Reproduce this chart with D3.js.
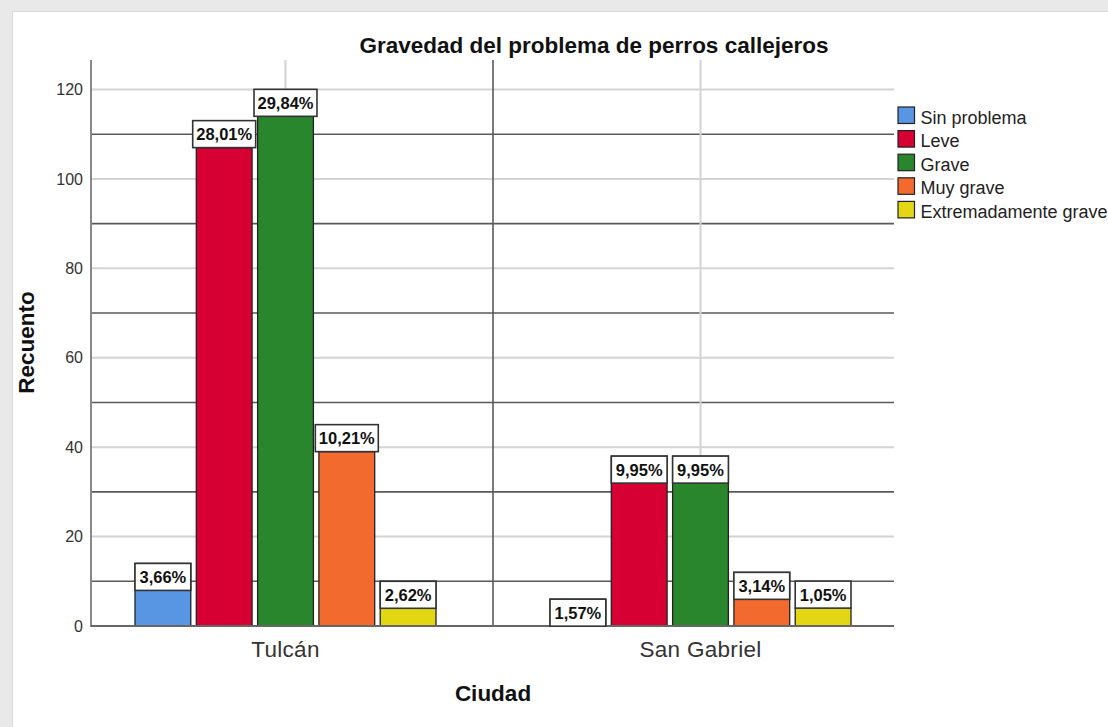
<!DOCTYPE html>
<html><head><meta charset="utf-8">
<script src="https://cdn.jsdelivr.net/npm/d3@7/dist/d3.min.js"></script>
<style>
html,body{margin:0;padding:0;background:#fff;overflow:hidden}
text{font-family:"Liberation Sans",Arial,sans-serif}
</style></head>
<body><svg id="c" width="1108" height="727"></svg>
<script>
const cities = ["Tulcán", "San Gabriel"];
const severities = ["Sin problema", "Leve", "Grave", "Muy grave", "Extremadamente grave"];
const countsTulcan = [14, 107, 114, 39, 10];
const countsSanGabriel = [6, 38, 38, 12, 4];
const pctTulcan = ["3,66%", "28,01%", "29,84%", "10,21%", "2,62%"];
const pctSanGabriel = ["1,57%", "9,95%", "9,95%", "3,14%", "1,05%"];
const labelSideTulcan = ["inside", "above", "above", "above", "inside"];
const labelSideSanGabriel = ["inside", "inside", "inside", "inside", "above"];
const yTicks = [0, 20, 40, 60, 80, 100, 120];
const yMidLines = [10, 30, 50, 70, 90, 110];
const colors = ["#5896e4", "#d60032", "#2a862c", "#f26a2e", "#e3d714"];

const counts = [countsTulcan, countsSanGabriel];
const pcts = [pctTulcan, pctSanGabriel];
const sides = [labelSideTulcan, labelSideSanGabriel];

const svg = d3.select("#c");
// frame
svg.append("rect").attr("width",1108).attr("height",727).attr("fill","#e9e9e9");
svg.append("rect").attr("x",12).attr("y",11).attr("width",1100).attr("height",720).attr("fill","#d8d8d8");
svg.append("rect").attr("x",13).attr("y",12).attr("width",1100).attr("height",720).attr("fill","#ffffff");

const plotL = 91, plotR = 894, plotT = 60, plotB = 626;
const y = d3.scaleLinear().domain([0, 126.6]).range([plotB, plotT]);
const x0 = d3.scaleBand().domain(cities).range([78, 908]);
const x1 = d3.scaleBand().domain(severities).range([0, 301]).paddingInner(0.09);

const g = svg.append("g");
// horizontal grid
g.selectAll(".gl").data(yTicks.filter(d=>d>0)).join("line")
  .attr("x1",plotL).attr("x2",plotR).attr("y1",d=>y(d)).attr("y2",d=>y(d))
  .attr("stroke","#d3d3d3").attr("stroke-width",2);
g.selectAll(".gd").data(yMidLines).join("line")
  .attr("x1",plotL).attr("x2",plotR).attr("y1",d=>y(d)).attr("y2",d=>y(d))
  .attr("stroke","#5a5a5a").attr("stroke-width",1.6);
// vertical grid
g.selectAll(".vl").data(cities).join("line")
  .attr("x1",d=>x0(d)+x0.bandwidth()/2).attr("x2",d=>x0(d)+x0.bandwidth()/2)
  .attr("y1",plotT).attr("y2",plotB).attr("stroke","#d3d3d3").attr("stroke-width",2);
g.append("line").attr("x1",x0(cities[1])).attr("x2",x0(cities[1]))
  .attr("y1",plotT).attr("y2",plotB).attr("stroke","#5a5a5a").attr("stroke-width",1.6);

// y axis
const yAxis = d3.axisLeft(y).tickValues(yTicks).tickSize(0).tickPadding(8);
const ya = svg.append("g").attr("transform",`translate(${plotL},0)`).call(yAxis);
ya.select(".domain").remove();
ya.selectAll("text").attr("font-size","16px").attr("fill","#333").attr("font-family","Liberation Sans, Arial, sans-serif");
svg.append("line").attr("x1",plotL).attr("x2",plotL).attr("y1",plotT).attr("y2",plotB+1)
  .attr("stroke","#888").attr("stroke-width",2);

// bars
cities.forEach((city, ci) => {
  const gx = x0(city) + x0.bandwidth()/2 - 150.5;
  const grp = svg.append("g").attr("transform",`translate(${gx},0)`);
  grp.selectAll("rect").data(severities).join("rect")
    .attr("x",d=>x1(d)).attr("width",x1.bandwidth())
    .attr("y",(d,i)=>y(counts[ci][i])).attr("height",(d,i)=>y(0)-y(counts[ci][i]))
    .attr("fill",(d,i)=>colors[i]).attr("stroke","#222").attr("stroke-width",1.3);
});

// x axis line
svg.append("line").attr("x1",plotL).attr("x2",plotR).attr("y1",plotB).attr("y2",plotB)
  .attr("stroke","#666").attr("stroke-width",2);

// labels
cities.forEach((city, ci) => {
  const gx = x0(city) + x0.bandwidth()/2 - 150.5;
  severities.forEach((s, i) => {
    const cx = gx + x1(s) + x1.bandwidth()/2;
    const top = y(counts[ci][i]);
    const h = 27;
    const lg = svg.append("g");
    const r = lg.append("rect");
    const t = lg.append("text").text(pcts[ci][i]).attr("font-size","16.5px").attr("font-weight","bold")
      .attr("fill","#111").attr("text-anchor","middle").attr("x",cx);
    const tw = t.node().getComputedTextLength();
    const w = Math.max(tw + 7, x1.bandwidth());
    const by = sides[ci][i] === "above" ? top - h : top;
    r.attr("x",cx - w/2).attr("y",by).attr("width",w).attr("height",h)
      .attr("fill","#fff").attr("stroke","#333").attr("stroke-width",1.6);
    t.attr("y", by + h/2 + 6);
  });
});

// category labels
svg.selectAll(".cat").data(cities).join("text")
  .attr("x",d=>x0(d)+x0.bandwidth()/2).attr("y",657)
  .attr("text-anchor","middle").attr("font-size","22.5px").attr("letter-spacing","0.3px")
  .attr("fill","#333").text(d=>d);

// titles
svg.append("text").attr("x",594).attr("y",52.5).attr("text-anchor","middle")
  .attr("font-size","22.5px").attr("font-weight","bold").attr("fill","#111")
  .text("Gravedad del problema de perros callejeros");
svg.append("text").attr("x",493).attr("y",701).attr("text-anchor","middle")
  .attr("font-size","22.5px").attr("font-weight","bold").attr("fill","#111").text("Ciudad");
svg.append("text").attr("transform","translate(33.5,342.5) rotate(-90)").attr("text-anchor","middle")
  .attr("font-size","22.5px").attr("font-weight","bold").attr("fill","#111").text("Recuento");

// legend
const leg = svg.append("g").attr("transform","translate(898,107)");
const li = leg.selectAll("g").data(severities).join("g").attr("transform",(d,i)=>`translate(0,${i*23.6})`);
li.append("rect").attr("width",16.5).attr("height",16.5).attr("fill",(d,i)=>colors[i])
  .attr("stroke","#222").attr("stroke-width",1.2);
li.append("text").attr("x",22.5).attr("y",16.5).attr("font-size","18px").attr("fill","#222").text(d=>d);
</script></body></html>
